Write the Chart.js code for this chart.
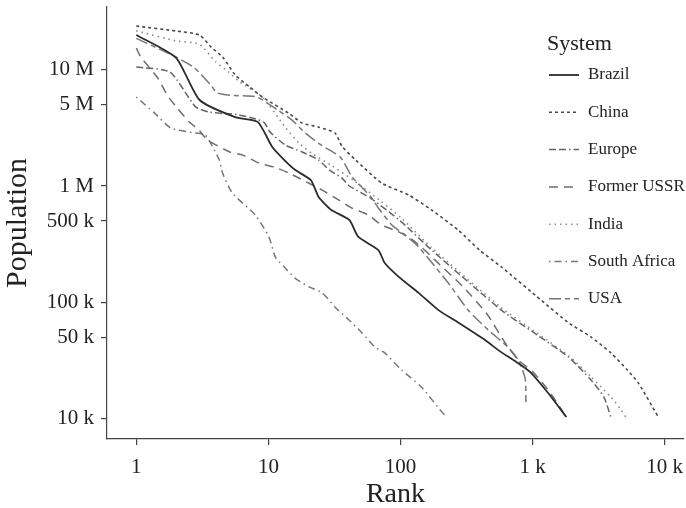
<!DOCTYPE html>
<html>
<head>
<meta charset="utf-8">
<script src="https://cdn.jsdelivr.net/npm/chart.js@4.4.0/dist/chart.umd.min.js"></script>
<style>
  body { margin: 0; background: #fff; }
  #wrap { width: 686px; height: 508px; }
</style>
</head>
<body>
<div id="wrap"><canvas id="rankchart" width="686" height="508"></canvas></div>
<script>
// rank / population, one pair of arrays per system
const brazilRank = [1, 2, 3, 5.6, 8.3, 10.7, 13.2, 16, 21, 24, 30, 41, 48, 68, 76, 97, 137, 194, 275, 432, 550, 780, 977, 1312, 1800];
const brazilPop = [19.8e6, 12.6e6, 5.5e6, 3.9e6, 3.55e6, 2.16e6, 1.67e6, 1.37e6, 1.12e6, 805e3, 622e3, 511e3, 365e3, 282e3, 218e3, 166e3, 121e3, 86e3, 67e3, 48e3, 39e3, 30e3, 24.8e3, 16.7e3, 10.4e3];

const chinaRank = [1, 2, 3, 3.7, 4.5, 5.6, 7.2, 9, 14.3, 18, 24, 32, 36, 45, 72, 115, 172, 273, 396, 580, 1156, 1870, 2768, 3910, 5220, 6310, 8950];
const chinaPop = [23.6e6, 21.4e6, 19.8e6, 15.5e6, 12.8e6, 9e6, 7.1e6, 5.8e6, 4.2e6, 3.47e6, 3.2e6, 2.85e6, 2.2e6, 1.7e6, 1.06e6, 838e3, 622e3, 419e3, 282e3, 202e3, 105e3, 67e3, 50.6e3, 36.9e3, 26.3e3, 20.4e3, 10.4e3];

const europeRank = [1, 1.8, 2.8, 3.6, 5.8, 7.8, 9.3, 10.3, 13.4, 18, 24, 29, 36, 41, 60, 100, 172, 580, 1024, 1870, 2770, 3460, 3910];
const europePop = [10.5e6, 9.5e6, 4.8e6, 4.3e6, 4.1e6, 3.8e6, 3.5e6, 2.9e6, 2.25e6, 1.96e6, 1.67e6, 1.37e6, 1.17e6, 1.0e6, 780e3, 500e3, 282e3, 86e3, 55e3, 34e3, 21.6e3, 15.5e3, 10.4e3];

const ussrRank = [1, 1.08, 1.45, 1.72, 2, 2.52, 3, 3.46, 5.1, 6.4, 8.5, 11.2, 14.3, 25.4, 34, 42.7, 57, 72, 90, 115, 144, 182, 300, 450, 620, 780, 1000, 1300, 1700];
const ussrPop = [15.3e6, 12.8e6, 8.5e6, 6e6, 4.8e6, 3.54e6, 3e6, 2.48e6, 1.96e6, 1.84e6, 1.57e6, 1.45e6, 1.29e6, 925e3, 759e3, 647e3, 564e3, 462e3, 419e3, 365e3, 299e3, 232e3, 135e3, 80e3, 45e3, 32e3, 25.5e3, 18e3, 11.5e3];

const indiaRank = [1, 2, 3, 4, 5, 6, 9, 13.4, 17, 21.4, 30, 45, 70, 100, 172, 580, 1024, 1870, 2770, 3900, 4600, 5100];
const indiaPop = [21.5e6, 17.6e6, 16.5e6, 11.6e6, 9.5e6, 7.9e6, 5.8e6, 3.2e6, 2.34e6, 1.9e6, 1.5e6, 1.1e6, 750e3, 540e3, 295e3, 90e3, 57e3, 35e3, 23e3, 15.5e3, 12.3e3, 10.3e3];

const southAfricaRank = [1, 1.37, 1.82, 2.76, 3.33, 4.25, 4.5, 5.33, 7.95, 10.1, 11.3, 13.4, 15.9, 20.3, 25.5, 32, 40.6, 51, 64, 76, 102, 144, 205, 216];
const southAfricaPop = [5.8e6, 4.24e6, 3.15e6, 2.85e6, 2.74e6, 1.67e6, 1.29e6, 871e3, 564e3, 365e3, 245e3, 198e3, 162e3, 136e3, 121e3, 91e3, 71e3, 55e3, 41.5e3, 36.9e3, 26.3e3, 18.8e3, 11.5e3, 10.8e3];

const usaRank = [1, 1.4, 1.7, 2, 2.76, 3.65, 4.1, 5.15, 8.2, 11.7, 15, 19, 25, 35, 43, 60, 68, 86, 108, 137, 230, 325, 462, 650, 780, 880, 890];
const usaPop = [18.5e6, 15.5e6, 14e6, 12.8e6, 10.3e6, 7.4e6, 6.3e6, 6e6, 5.8e6, 4.5e6, 3.7e6, 2.85e6, 2.25e6, 1.77e6, 1.2e6, 800e3, 647e3, 462e3, 380e3, 300e3, 147e3, 86e3, 58e3, 41.5e3, 32e3, 22e3, 14e3];

const xTicks = [1, 10, 100, 1000, 10000];
const xTickLabels = ['1', '10', '100', '1 k', '10 k'];
const yTicks = [1e4, 5e4, 1e5, 5e5, 1e6, 5e6, 1e7];
const yTickLabels = ['10 k', '50 k', '100 k', '500 k', '1 M', '5 M', '10 M'];

function pts(ranks, pops) {
  return ranks.map(function(r, i) { return { x: r, y: pops[i] }; });
}

function series(label, ranks, pops, color, dash, width) {
  return {
    label: label,
    data: pts(ranks, pops),
    borderColor: color,
    borderDash: dash,
    borderWidth: width,
    showLine: true,
    pointRadius: 0,
    tension: 0.2,
    fill: false
  };
}

const serif = "'Liberation Serif', 'DejaVu Serif', serif";

// legend drawn by hand, top right inside the plot like the original
const legendPlugin = {
  id: 'sysLegend',
  afterDraw: function(chart) {
    const ctx = chart.ctx;
    ctx.save();
    ctx.fillStyle = '#222';
    ctx.textBaseline = 'middle';
    ctx.font = '22px ' + serif;
    ctx.fillText('System', 547, 44);
    ctx.font = '17px ' + serif;
    chart.data.datasets.forEach(function(ds, i) {
      const y = 75 + i * 37.3;
      ctx.beginPath();
      ctx.setLineDash(ds.borderDash);
      ctx.strokeStyle = ds.borderColor;
      ctx.lineWidth = ds.borderWidth;
      ctx.moveTo(549, y);
      ctx.lineTo(579, y);
      ctx.stroke();
      ctx.setLineDash([]);
      ctx.fillStyle = '#222';
      ctx.fillText(ds.label, 588, y);
    });
    ctx.restore();
  }
};

const config = {
  type: 'scatter',
  data: {
    datasets: [
      series('Brazil', brazilRank, brazilPop, '#2b2b2b', [], 1.8),
      series('China', chinaRank, chinaPop, '#4a4a4a', [3, 3], 1.6),
      series('Europe', europeRank, europePop, '#666', [7, 3, 7, 3, 1.5, 3], 1.5),
      series('Former USSR', ussrRank, ussrPop, '#6e6e6e', [9, 6], 1.5),
      series('India', indiaRank, indiaPop, '#8a8a8a', [1.5, 4], 1.6),
      series('South Africa', southAfricaRank, southAfricaPop, '#777', [1.5, 4, 7, 4], 1.5),
      series('USA', usaRank, usaPop, '#777', [12, 4, 5, 4], 1.5)
    ]
  },
  options: {
    responsive: false,
    animation: false,
    layout: { padding: { top: 7, right: 2, left: 0, bottom: 0 } },
    plugins: {
      legend: { display: false },
      tooltip: { enabled: false }
    },
    scales: {
      x: {
        type: 'logarithmic',
        position: 'bottom',
        min: 0.63,
        max: 14000,
        afterBuildTicks: function(scale) {
          scale.ticks = xTicks.map(function(v) { return { value: v }; });
        },
        afterFit: function(scale) {
          scale.height = 69;
          scale.paddingLeft = 0;
          scale.paddingRight = 0;
        },
        ticks: {
          autoSkip: false,
          maxRotation: 0,
          padding: 10,
          color: '#222',
          font: { family: serif, size: 21 },
          callback: function(v) { return xTickLabels[xTicks.indexOf(v)]; }
        },
        grid: { drawOnChartArea: false, drawTicks: true, tickLength: 6, color: '#444', lineWidth: 1.2 },
        border: { display: true, color: '#444', width: 1.2 },
        title: {
          display: true,
          text: 'Rank',
          color: '#222',
          font: { family: serif, size: 28 },
          padding: { top: 0, bottom: -3 }
        }
      },
      y: {
        type: 'logarithmic',
        position: 'left',
        min: 6730,
        max: 34.4e6,
        afterBuildTicks: function(scale) {
          scale.ticks = yTicks.map(function(v) { return { value: v }; });
        },
        afterFit: function(scale) {
          scale.width = 107;
          scale.paddingTop = 0;
          scale.paddingBottom = 0;
        },
        ticks: {
          autoSkip: false,
          padding: 7,
          color: '#222',
          font: { family: serif, size: 21 },
          callback: function(v) { return yTickLabels[yTicks.indexOf(v)]; }
        },
        grid: { drawOnChartArea: false, drawTicks: true, tickLength: 6, color: '#444', lineWidth: 1.2 },
        border: { display: true, color: '#444', width: 1.2 },
        title: {
          display: true,
          text: 'Population',
          color: '#222',
          font: { family: serif, size: 30 },
          padding: { top: 0, bottom: 0 }
        }
      }
    }
  },
  plugins: [legendPlugin]
};

new Chart(document.getElementById('rankchart'), config);
</script>
</body>
</html>
